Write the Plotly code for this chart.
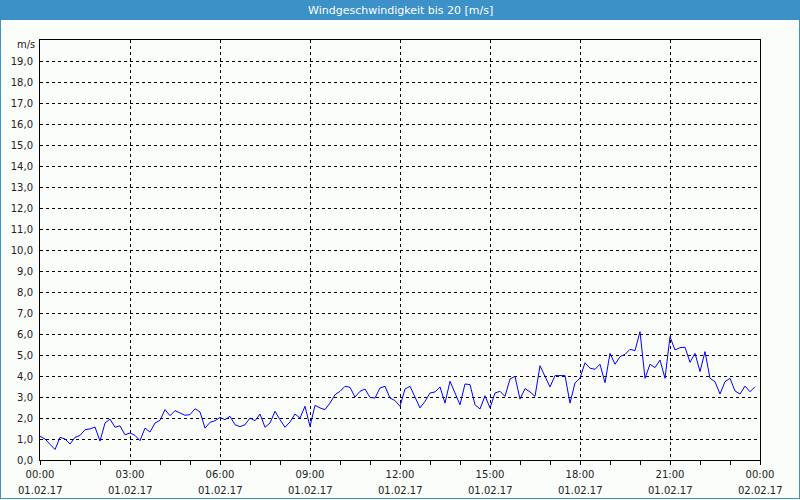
import plotly.graph_objects as go
import pandas as pd

# Wind speed values in m/s, one every 10 minutes, 01.02.17 00:00 .. 23:50
speed = [
    1.13, 1.00, 0.75, 0.50, 1.08, 1.00, 0.76, 1.08, 1.17, 1.44,
    1.48, 1.57, 0.90, 1.76, 1.95, 1.56, 1.63, 1.20, 1.29, 1.17,
    0.92, 1.52, 1.33, 1.76, 1.89, 2.40, 2.11, 2.35, 2.24, 2.13,
    2.16, 2.44, 2.29, 1.52, 1.79, 1.87, 2.03, 1.92, 2.08, 1.68,
    1.59, 1.68, 2.00, 1.87, 2.19, 1.56, 1.76, 2.32, 1.92, 1.56,
    1.81, 2.19, 2.00, 2.56, 1.60, 2.60, 2.48, 2.40, 2.71, 3.11,
    3.27, 3.51, 3.46, 3.00, 3.27, 3.38, 2.98, 2.95, 3.43, 3.51,
    2.95, 2.83, 2.56, 3.38, 3.51, 3.00, 2.48, 2.79, 3.19, 3.24,
    3.48, 2.71, 3.75, 3.19, 2.63, 3.62, 3.59, 2.63, 2.43, 3.06,
    2.48, 3.19, 3.27, 3.03, 3.86, 3.98, 2.90, 3.40, 3.24, 3.03,
    4.49, 3.98, 3.48, 4.02, 4.02, 4.02, 2.71, 3.67, 3.90, 4.63,
    4.37, 4.32, 4.56, 3.68, 5.08, 4.56, 4.92, 5.03, 5.27, 5.21,
    6.11, 3.89, 4.56, 4.40, 4.76, 3.89, 5.87, 5.24, 5.35, 5.37,
    4.65, 5.08, 4.21, 5.16, 3.89, 3.73, 3.14, 3.73, 3.89, 3.29,
    3.14, 3.52, 3.25, 3.49,
]
times = pd.date_range("2017-02-01 00:00", periods=len(speed), freq="10min")

title_text = "Windgeschwindigkeit bis 20 [m/s]"
unit_label = "m/s"
y_ticks = list(range(0, 20))
y_ticktext = [f"{v},0" for v in y_ticks]
x_tickvals = pd.date_range("2017-02-01 00:00", "2017-02-02 00:00", freq="3h")
x_timetext = [f"{t:%H:%M}" for t in x_tickvals]
x_datetext = [f"{t:%d.%m.%y}" for t in x_tickvals]

BG = "#fbfdfb"
BLUE = "#3c91c7"
FONT = "DejaVu Sans"

fig = go.Figure()
fig.add_trace(go.Scatter(
    x=times, y=speed, mode="lines",
    line=dict(color="#0000ff", width=1),
    hoverinfo="skip", showlegend=False,
))

W, H = 800, 500
L, R, T, B = 40, 40, 40, 40
PW, PH = W - L - R, H - T - B


def px(x):
    return (x - L) / PW


def py(y):
    return (H - B - y) / PH


shapes = [
    # title bar
    dict(type="rect", xref="paper", yref="paper",
         x0=px(0), x1=px(W), y0=py(20), y1=py(0),
         fillcolor=BLUE, line=dict(width=0), layer="below"),
    # window border
    dict(type="line", xref="paper", yref="paper", x0=px(0.5), x1=px(0.5),
         y0=py(20), y1=py(499), line=dict(color=BLUE, width=1)),
    dict(type="line", xref="paper", yref="paper", x0=px(799.5), x1=px(799.5),
         y0=py(20), y1=py(499), line=dict(color=BLUE, width=1)),
    dict(type="line", xref="paper", yref="paper", x0=px(0), x1=px(800),
         y0=py(498.5), y1=py(498.5), line=dict(color=BLUE, width=1)),
]

annotations = [
    dict(text=title_text, xref="paper", yref="paper", x=0.5, y=py(10),
         xanchor="center", yanchor="middle", showarrow=False,
         font=dict(family=FONT, size=11, color="white")),
    dict(text=unit_label, xref="paper", yref="paper", x=px(37), y=py(45),
         xanchor="right", yanchor="middle", showarrow=False,
         font=dict(family=FONT, size=10, color="#222")),
]
for t, d in zip(x_tickvals, x_datetext):
    annotations.append(dict(
        text=d, xref="x", yref="paper", x=t, y=py(490),
        xanchor="center", yanchor="middle", showarrow=False,
        font=dict(family=FONT, size=10, color="#222")))

fig.update_layout(
    width=W, height=H,
    margin=dict(l=L, r=R, t=T, b=B),
    paper_bgcolor=BG, plot_bgcolor=BG,
    shapes=shapes, annotations=annotations,
    font=dict(family=FONT, size=10, color="#222"),
    xaxis=dict(
        range=[pd.Timestamp("2017-02-01 00:00"), pd.Timestamp("2017-02-02 00:00")],
        tickvals=x_tickvals, ticktext=x_timetext,
        showgrid=True, gridcolor="black", gridwidth=1, griddash="3px,3px",
        showline=True, linecolor="black", linewidth=1, mirror=True,
        ticks="outside", ticklen=4, tickcolor="black", ticklabelstandoff=1,
        minor=dict(dtick=3600000, ticks="outside", ticklen=4, tickcolor="black", showgrid=False),
        zeroline=False, fixedrange=True, automargin=False,
    ),
    yaxis=dict(
        range=[0, 20], tickvals=y_ticks, ticktext=y_ticktext,
        showgrid=True, gridcolor="black", gridwidth=1, griddash="3px,3px",
        showline=True, linecolor="black", linewidth=1, mirror=True,
        ticks="", ticklabelstandoff=4, zeroline=False, fixedrange=True,
        automargin=False,
    ),
)

fig.write_html("out.html")
